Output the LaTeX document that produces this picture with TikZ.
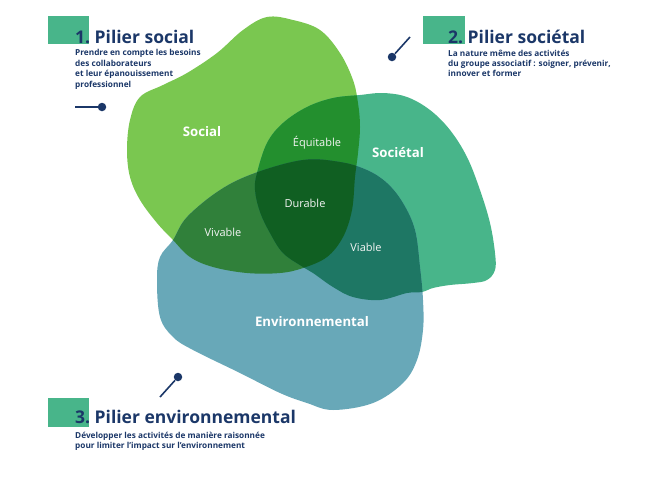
\documentclass[tikz,border=0pt]{standalone}
\usepackage{fontspec}
\setmainfont{Open Sans}
\definecolor{navy}{RGB}{27,55,104}
\definecolor{boxg}{RGB}{72,181,138}
\definecolor{cS}{RGB}{122,199,80}
\definecolor{cT}{RGB}{72,181,138}
\definecolor{cE}{RGB}{104,168,184}
\definecolor{cST}{RGB}{35,143,46}
\definecolor{cSE}{RGB}{48,128,58}
\definecolor{cTE}{RGB}{30,119,100}
\definecolor{cSTE}{RGB}{16,95,34}
\newcommand{\blobS}[1]{\path[#1] plot[smooth cycle,tension=0.6] coordinates {(267,17) (293,20) (320,30) (340,53) (353,80) (358,103) (360,127) (358,153) (355,177) (352,210) (343,237) (327,257) (303,268) (280,273) (247,273) (213,267) (190,257) (173,240) (157,223) (140,200) (130,177) (127,150) (130,120) (140,97) (163,85) (187,73) (217,53) (243,30)};}
\newcommand{\blobT}[1]{\path[#1] plot[smooth cycle,tension=0.6] coordinates {(360,95) (383,93) (407,97) (430,110) (450,130) (467,157) (480,190) (490,223) (495,253) (495,270) (487,280) (473,283) (450,285) (433,288) (422,292) (407,293) (380,300) (353,297) (333,287) (313,273) (303,267) (283,253) (270,233) (260,212) (255,190) (257,173) (267,143) (283,123) (307,107) (333,98)};}
\newcommand{\blobE}[1]{\path[#1] plot[smooth cycle,tension=0.6] coordinates {(173,240) (187,217) (220,190) (255,173) (303,160) (340,162) (367,170) (387,183) (403,203) (415,230) (420,267) (423,300) (423,330) (417,360) (403,383) (373,403) (333,410) (307,403) (280,393) (240,373) (193,350) (173,337) (160,317) (157,280) (160,257)};}
\tikzset{
  title/.style={anchor=base west,inner sep=0,text=navy,font=\fontsize{17.5}{20}\selectfont\bfseries},
  sub/.style={anchor=north west,inner sep=0,text=navy,align=left,font=\fontsize{8.25}{10.4}\selectfont\bfseries},
  gbox/.style={fill=boxg,draw=none},
  pindot/.style={circle,fill=navy,inner sep=0,minimum size=8.5pt},
  pinline/.style={draw=navy,line width=1.6pt},
  big/.style={text=white,font=\fontsize{13.2}{15}\selectfont\bfseries},
  small/.style={text=white!92!gray,font=\fontsize{11}{13}\selectfont}
}
\begin{document}
\begin{tikzpicture}[x=1pt,y=-1pt]
\useasboundingbox (0,0) rectangle (647,491);
% blobs
\blobS{fill=cS}
\blobT{fill=cT}
\blobE{fill=cE}
\begin{scope}\blobS{clip}\blobT{fill=cST}\blobE{fill=cSE}\end{scope}
\begin{scope}\blobT{clip}\blobE{fill=cTE}\end{scope}
\begin{scope}\blobS{clip}\blobT{clip}\blobE{fill=cSTE}\end{scope}
% labels in blobs
\node[big] (lS) at (202,132) {Social};
\node[big] (lT) at (398,153) {Sociétal};
\node[big] (lE) at (312,322) {Environnemental};
\node[small] (lST) at (317,143) {Équitable};
\node[small] (lSTE) at (305,203) {Durable};
\node[small] (lSE) at (223,232) {Vivable};
\node[small] (lTE) at (366,247) {Viable};
% block 1
\fill[gbox] (48,16) rectangle (89,44);
\node[title] (t1) at (75,43.3) {1.~Pilier social};
\node[sub] (s1) at (75,49.5) {Prendre en compte les besoins\\des collaborateurs\\et leur épanouissement\\professionnel};
\node[pindot] (d1) at (102,107) {};
\coordinate (e1) at (75,107);
\draw[pinline] (e1) -- (d1);
% block 2
\fill[gbox] (423,16) rectangle (465,44);
\node[title] (t2) at (448,43.3) {2.~Pilier sociétal};
\node[sub] (s2) at (448,49.5) {La nature même des activités\\du groupe associatif : soigner, prévenir,\\innover et former};
\node[pindot] (d2) at (392,57) {};
\coordinate (e2) at (410,37);
\draw[pinline] (e2) -- (d2);
% block 3
\fill[gbox] (48,398) rectangle (89,427);
\node[title] (t3) at (75,423.3) {3.~Pilier environnemental};
\node[sub] (s3) at (75,431.5) {Développer les activités de manière raisonnée\\pour limiter l’impact sur l’environnement};
\node[pindot] (d3) at (178,377) {};
\coordinate (e3) at (160,397);
\draw[pinline] (e3) -- (d3);
\end{tikzpicture}
\end{document}
